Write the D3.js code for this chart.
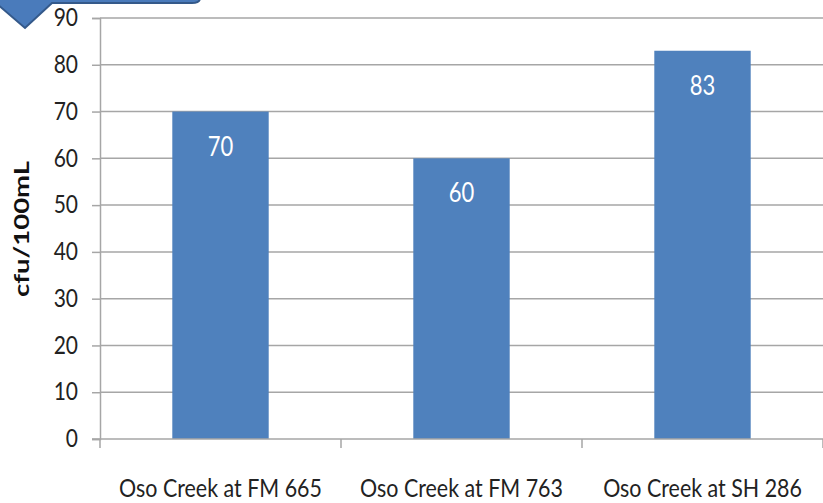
<!DOCTYPE html>
<html>
<head>
<meta charset="utf-8">
<script src="https://cdn.jsdelivr.net/npm/d3@7/dist/d3.min.js"></script>
<style>
  html, body { margin: 0; padding: 0; background: #fff; }
  svg { display: block; }
  text { font-family: Lato, "Open Sans", sans-serif; }
</style>
</head>
<body>
<svg id="chart" width="823" height="503"></svg>
<script>
// Sampling sites and bacteria counts (cfu/100mL)
const sites = ["Oso Creek at FM 665", "Oso Creek at FM 763", "Oso Creek at SH 286"];
const counts = [70, 60, 83];
const yTicks = [0, 10, 20, 30, 40, 50, 60, 70, 80, 90];
const yTitle = "cfu/100mL";

const W = 823, H = 503;
const plot = { left: 100, right: 823, top: 18, bottom: 439 };
const tall = 1.15; // vertical stretch applied to the text glyphs

const svg = d3.select("#chart");

const x = d3.scaleBand()
  .domain(sites)
  .range([plot.left, plot.right])
  .paddingInner(0.6)
  .paddingOuter(0.3);

const y = d3.scaleLinear()
  .domain([0, 90])
  .range([plot.bottom, plot.top]);

const gridColor = "#a6a6a6";

// Horizontal gridlines
svg.append("g")
  .selectAll("line")
  .data(yTicks.filter(d => d > 0))
  .join("line")
  .attr("x1", plot.left).attr("x2", plot.right)
  .attr("y1", d => y(d)).attr("y2", d => y(d))
  .attr("stroke", gridColor).attr("stroke-width", 1.5);

// Y axis with outward ticks
const yAxis = svg.append("g")
  .attr("transform", `translate(${plot.left},0)`)
  .call(d3.axisLeft(y).tickValues(yTicks).tickSize(8).tickPadding(14));
yAxis.select(".domain").attr("stroke", gridColor).attr("stroke-width", 1.5);
yAxis.selectAll(".tick line").attr("stroke", gridColor).attr("stroke-width", 1.5);
yAxis.selectAll(".tick text")
  .attr("fill", "#222")
  .attr("transform", `scale(1,${tall})`)
  .style("font-size", "21px")
  .style("font-family", "Lato, sans-serif");

// Bars
svg.append("g")
  .selectAll("rect")
  .data(sites)
  .join("rect")
  .attr("x", d => x(d))
  .attr("width", x.bandwidth())
  .attr("y", (d, i) => y(counts[i]))
  .attr("height", (d, i) => y(0) - y(counts[i]))
  .attr("fill", "#4f81bd");

// X axis with category boundary ticks
const xAxisG = svg.append("g");
xAxisG.append("line")
  .attr("x1", plot.left - 8).attr("x2", plot.right)
  .attr("y1", y(0)).attr("y2", y(0))
  .attr("stroke", gridColor).attr("stroke-width", 1.5);
const step = x.step();
const boundaries = sites.map(d => x(d) - x.paddingOuter() * step).concat([plot.right]);
xAxisG.selectAll("line.b")
  .data(boundaries)
  .join("line")
  .attr("class", "b")
  .attr("x1", d => d).attr("x2", d => d)
  .attr("y1", y(0)).attr("y2", y(0) + 9)
  .attr("stroke", gridColor).attr("stroke-width", 1.5);

xAxisG.selectAll("text")
  .data(sites)
  .join("text")
  .attr("transform", d => `translate(${x(d) + x.bandwidth() / 2},497) scale(1.02,${tall})`)
  .attr("text-anchor", "middle")
  .attr("fill", "#222")
  .style("font-size", "21px")
  .text(d => d);

// Value labels inside bars
svg.append("g")
  .selectAll("text")
  .data(sites)
  .join("text")
  .attr("transform", (d, i) => `translate(${x(d) + x.bandwidth() / 2},${y(counts[i]) + 44}) scale(1,1.2)`)
  .attr("text-anchor", "middle")
  .attr("fill", "#fff")
  .style("font-size", "22px")
  .text((d, i) => counts[i]);

// Axis title
svg.append("text")
  .attr("transform", `translate(29,229) rotate(-90)`)
  .attr("text-anchor", "middle")
  .attr("textLength", 136)
  .attr("lengthAdjust", "spacingAndGlyphs")
  .attr("fill", "#111")
  .style("font-size", "21px")
  .style("font-weight", "bold")
  .text(yTitle);

// Slide tab decoration in the top-left corner
svg.append("path")
  .attr("d", "M-4,-4 L200,-4 L200,-2 Q200,3 192,3 L52,3 L25,28 L-4,3 Z")
  .attr("fill", "#4a7bbb")
  .attr("stroke", "#34598a")
  .attr("stroke-width", 2);
</script>
</body>
</html>
